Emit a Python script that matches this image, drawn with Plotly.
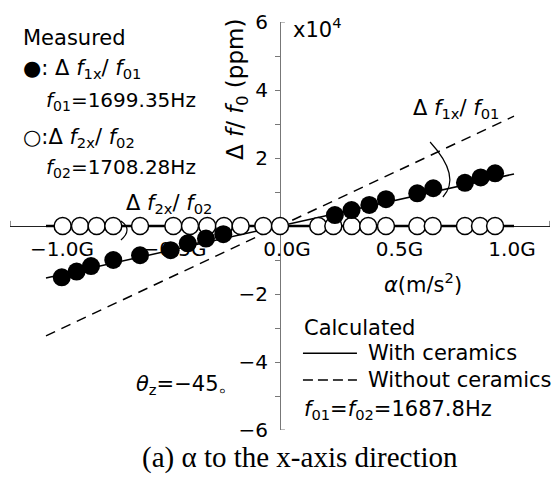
import plotly.graph_objects as go

# ---------------- data ----------------
# measured  Δf1x/f01 (filled circles), x in G, y in x10^4 ppm
f1x_x = [-0.970, -0.904, -0.840, -0.741, -0.622, -0.486, -0.410, -0.329, -0.252,
         0.244, 0.318, 0.397, 0.471, 0.610, 0.681, 0.822, 0.892, 0.956]
f1x_y = [-1.51, -1.34, -1.18, -1.00, -0.86, -0.71, -0.51, -0.37, -0.24,
         0.32, 0.47, 0.62, 0.79, 0.96, 1.11, 1.27, 1.43, 1.55]
# measured  Δf2x/f02 (open circles)
f2x_x = [-0.966, -0.889, -0.815, -0.741, -0.622, -0.474, -0.400, -0.323, -0.249,
         -0.175, -0.074, 0.0, 0.170, 0.237, 0.319, 0.392, 0.471, 0.610, 0.679,
         0.822, 0.889, 0.956]
f2x_y = [0.0] * 22
# calculated
calc_x = [-1.04, 1.04]
calc_f1x_with = [-1.53, 1.53]
calc_f1x_without = [-3.23, 3.23]
calc_f2x_with = [0.0, 0.0]

x_tick_vals = [-1.0, -0.5, 0.0, 0.5, 1.0]
x_tick_text = ["−1.0G", "−0.5G", "0.0G", "0.5G", "1.0G"]
y_tick_vals = [-6, -4, -2, 2, 4, 6]
y_tick_text = ["−6", "−4", "−2", "2", "4", "6"]
y_minor_vals = [-5, -4, -3, -2, -1, 1, 2, 3, 4, 5]

FONT = "DejaVu Sans"
FS = 21
TFS = 20

fig = go.Figure()
fig.add_trace(go.Scatter(x=calc_x, y=calc_f1x_without, mode="lines",
                         line=dict(color="black", width=1.5, dash="10px,7px"),
                         hoverinfo="skip"))
fig.add_trace(go.Scatter(x=calc_x, y=calc_f1x_with, mode="lines",
                         line=dict(color="black", width=1.5), hoverinfo="skip"))
fig.add_trace(go.Scatter(x=calc_x, y=calc_f2x_with, mode="lines",
                         line=dict(color="black", width=2.5), hoverinfo="skip"))
fig.add_trace(go.Scatter(x=f2x_x, y=f2x_y, mode="markers",
                         marker=dict(symbol="circle", size=17, color="white",
                                     line=dict(color="black", width=1.5))))
fig.add_trace(go.Scatter(x=f1x_x, y=f1x_y, mode="markers",
                         marker=dict(symbol="circle", size=18, color="black",
                                     line=dict(color="black", width=0))))

fig.update_layout(
    width=560, height=478,
    margin=dict(l=10, r=10, t=22, b=48, autoexpand=False),
    paper_bgcolor="white", plot_bgcolor="white",
    showlegend=False,
    font=dict(family=FONT, size=FS, color="black"),
    xaxis=dict(range=[-1.2, 1.2], anchor="free", position=0.5, automargin=False,
               showline=True, linecolor="#222", linewidth=1,
               showgrid=False, zeroline=False, ticks="",
               tickvals=x_tick_vals, ticktext=x_tick_text,
               tickfont=dict(family=FONT, size=TFS),
               ticklabelstandoff=5, ticklabelshift=7,
               layer="below traces"),
    yaxis=dict(range=[-6, 6], anchor="free", position=0.5, automargin=False,
               showline=True, linecolor="#777", linewidth=1,
               showgrid=False, zeroline=False, ticks="",
               tickvals=y_tick_vals, ticktext=y_tick_text,
               tickfont=dict(family=FONT, size=TFS),
               ticklabelstandoff=8,
               minor=dict(tickvals=y_minor_vals, ticks="outside", ticklen=5,
                          tickcolor="#777", tickwidth=1),
               layer="below traces"),
)

shapes = [
    # y-axis end ticks (pointing right)
    dict(type="line", xref="x", yref="y", x0=0, x1=0.022, y0=6, y1=6,
         line=dict(color="#777", width=1)),
    dict(type="line", xref="x", yref="y", x0=0, x1=0.022, y0=-6, y1=-6,
         line=dict(color="#777", width=1)),
    # x-axis end ticks (pointing up)
    dict(type="line", xref="x", yref="y", x0=-1.2, x1=-1.2, y0=0, y1=0.15,
         line=dict(color="#222", width=1)),
    dict(type="line", xref="x", yref="y", x0=1.2, x1=1.2, y0=0, y1=0.15,
         line=dict(color="#222", width=1)),
    # angle arcs
    dict(type="path", xref="x", yref="y",
         path="M 0.667,2.47 Q 0.807,1.456 0.724,0.853",
         line=dict(color="black", width=1.2)),
    dict(type="path", xref="x", yref="y",
         path="M -0.707,0.147 Q -0.653,-0.103 -0.707,-0.412",
         line=dict(color="black", width=1.2)),
    # calculated legend samples
    dict(type="line", xref="x", yref="y", x0=0.102, x1=0.342, y0=-3.74, y1=-3.74,
         line=dict(color="black", width=1.5)),
    dict(type="line", xref="x", yref="y", x0=0.102, x1=0.342, y0=-4.53, y1=-4.53,
         line=dict(color="black", width=1.5, dash="10px,5px")),
]
fig.update_layout(shapes=shapes)

def ann(text, x, y, xanchor="left", size=FS, **kw):
    d = dict(text=text, x=x, y=y, xref="x", yref="y", showarrow=False,
             xanchor=xanchor, yanchor="middle", borderpad=0,
             font=dict(family=FONT, size=size))
    d.update(kw)
    fig.add_annotation(**d)

ann("Measured", -1.147, 5.53)
ann("●: Δ <i>f</i><sub>1x</sub>/ <i>f</i><sub>01</sub>", -1.147, 4.62)
ann("<i>f</i><sub>01</sub>=1699.35Hz", -1.045, 3.68, size=20)
ann("○:Δ <i>f</i><sub>2x</sub>/ <i>f</i><sub>02</sub>", -1.147, 2.6)
ann("<i>f</i><sub>02</sub>=1708.28Hz", -1.045, 1.72, size=20)
ann("x10<sup>4</sup>", 0.053, 5.82)
ann("Δ <i>f</i>/ <i>f</i><sub>0</sub> (ppm)", -0.191, 4.0, xanchor="center",
    size=23, textangle=-90)
ann("Δ <i>f</i><sub>1x</sub>/ <i>f</i><sub>01</sub>", 0.587, 3.45)
ann("Δ <i>f</i><sub>2x</sub>/ <i>f</i><sub>02</sub>", -0.689, 0.66)
ann("<i>α</i>(m/s<sup>2</sup>)", 0.458, -1.68)
ann("Calculated", 0.102, -3.0)
ann("With ceramics", 0.387, -3.74)
ann("Without ceramics", 0.387, -4.53)
ann("<i>f</i><sub>01</sub>=<i>f</i><sub>02</sub>=1687.8Hz", 0.102, -5.41)
ann("<i>θ</i><sub>z</sub>=−45。", -0.644, -4.68)
fig.add_annotation(text="(a) α to the x-axis direction", xref="paper", yref="paper",
                   x=0.537, y=-0.0686, xanchor="center", yanchor="middle",
                   showarrow=False, borderpad=0,
                   font=dict(family="Liberation Serif", size=29))

fig.write_html("out.html", config={"displayModeBar": False},
               post_script="document.body.style.margin='0';document.body.style.overflow='hidden';")
